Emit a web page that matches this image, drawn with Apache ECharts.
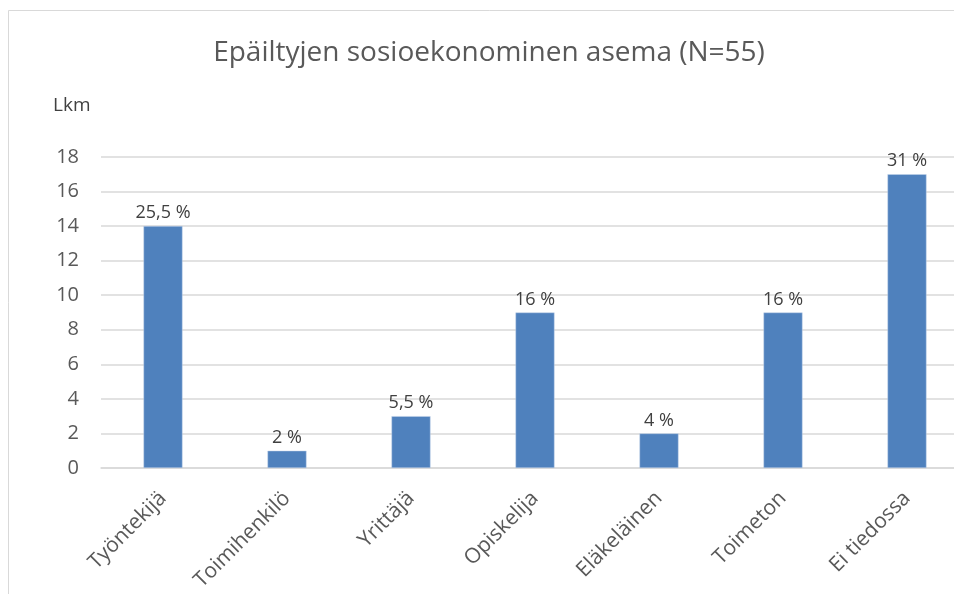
<!DOCTYPE html>
<html><head><meta charset="utf-8">
<script src="https://cdn.jsdelivr.net/npm/echarts@6/dist/echarts.min.js"></script>
<style>html,body{margin:0;padding:0;background:#fff;overflow:hidden}#c{width:970px;height:594px}</style>
</head><body><div id="c"></div>
<script>
const categories = ['Työntekijä','Toimihenkilö','Yrittäjä','Opiskelija','Eläkeläinen','Toimeton','Ei tiedossa'];
const values = [14, 1, 3, 9, 2, 9, 17];
const percentLabels = ['25,5 %','2 %','5,5 %','16 %','4 %','16 %','31 %'];
const yTicks = [0, 2, 4, 6, 8, 10, 12, 14, 16, 18];

const FONT = '"Open Sans", "Noto Sans", sans-serif';
const chart = echarts.init(document.getElementById('c'));
chart.setOption({
  animation: false,
  backgroundColor: '#fff',
  graphic: [{
    type: 'rect', left: 6, top: 8, shape: {width: 1000, height: 1000},
    style: {fill: 'none', stroke: '#d9d9d9', lineWidth: 1}, silent: true
  }],
  title: {
    text: 'Epäiltyjen sosioekonominen asema (N=55)',
    left: 484, top: 34, textAlign: 'center',
    textStyle: {fontFamily: FONT, fontSize: 28, fontWeight: 'normal', color: '#595959'}
  },
  grid: {left: 101, width: 868, top: 157, height: 311, containLabel: false},
  xAxis: {
    type: 'category', data: categories,
    axisLine: {lineStyle: {color: '#d9d9d9', width: 1.5}},
    axisTick: {show: false},
    axisLabel: {rotate: 45, fontFamily: FONT, fontSize: 21, color: '#595959', margin: 27, interval: 0}
  },
  yAxis: {
    type: 'value', min: yTicks[0], max: yTicks[yTicks.length-1], interval: 2,
    name: 'Lkm', nameLocation: 'end', nameGap: 42,
    nameTextStyle: {fontFamily: FONT, fontSize: 19, color: '#404040', align: 'left', padding: [0,0,0,-48]},
    axisLine: {show: false}, axisTick: {show: false},
    splitLine: {lineStyle: {color: '#d9d9d9', width: 1.5}},
    axisLabel: {fontFamily: FONT, fontSize: 20, color: '#595959', margin: 22}
  },
  series: [{
    type: 'bar', data: values, barWidth: 39,
    itemStyle: {color: '#4f81bd', borderColor: '#c5d4ea', borderWidth: 0.5},
    label: {
      show: true, position: 'top', distance: 4,
      fontFamily: FONT, fontSize: 18, color: '#404040',
      formatter: p => percentLabels[p.dataIndex]
    }
  }]
});
</script></body></html>
